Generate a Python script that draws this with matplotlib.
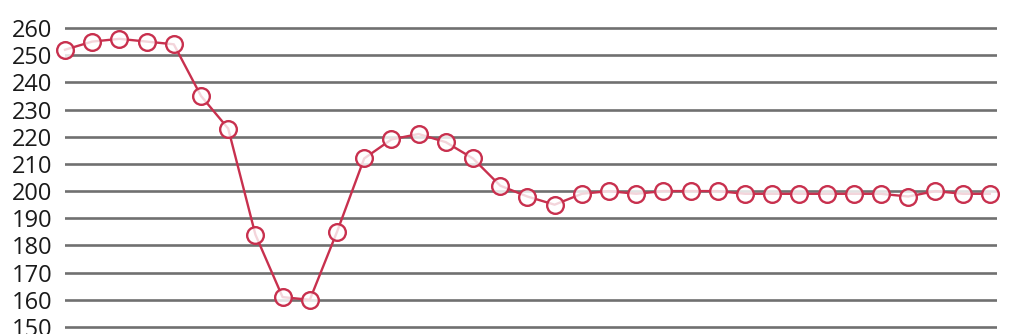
import matplotlib.pyplot as plt
import numpy as np

# Values (one point per step, no x labels shown)
values = [252, 255, 256, 255, 254, 235, 223, 184, 161, 160,
          185, 212, 219, 221, 218, 212, 202, 198, 195, 199,
          200, 199, 200, 200, 200, 199, 199, 199, 199, 199,
          199, 198, 200, 199, 199]
y_ticks = list(range(150, 261, 10))

LINE_COLOR = '#c8304e'
GRID_COLOR = '#707070'

plt.rcParams['font.family'] = ['Open Sans', 'DejaVu Sans']

fig = plt.figure(figsize=(10.24, 3.34), dpi=100)
# axes: left edge at x=65px, right edge at 997px, top at y=0, bottom at y=334
ax = fig.add_axes([65 / 1024, 0, (997 - 65) / 1024, 1])

x = np.arange(len(values))
px_per_unit = 27.2 / 10  # pixels per value unit
ax.set_ylim(150 - 7 / px_per_unit, 260 + 28 / px_per_unit)
ax.set_xlim(0, (997 - 65) / 27.2)

for t in y_ticks:
    ax.axhline(t, color=GRID_COLOR, linewidth=1.9, zorder=1)

ax.plot(x, values, color=LINE_COLOR, linewidth=1.7, zorder=2, clip_on=False)
ax.plot(x, values, linestyle='none', marker='o', markersize=12,
        markerfacecolor=(1, 1, 1, 0.8), markeredgecolor=LINE_COLOR,
        markeredgewidth=1.7, zorder=3, clip_on=False)

ax.set_yticks(y_ticks)
ax.set_yticklabels([str(t) for t in y_ticks], fontsize=17, color='#1a1a1a')
ax.tick_params(axis='y', length=0, pad=9)
ax.set_xticks([])
for s in ax.spines.values():
    s.set_visible(False)

fig.savefig('out.png', dpi=100)
plt.close(fig)
